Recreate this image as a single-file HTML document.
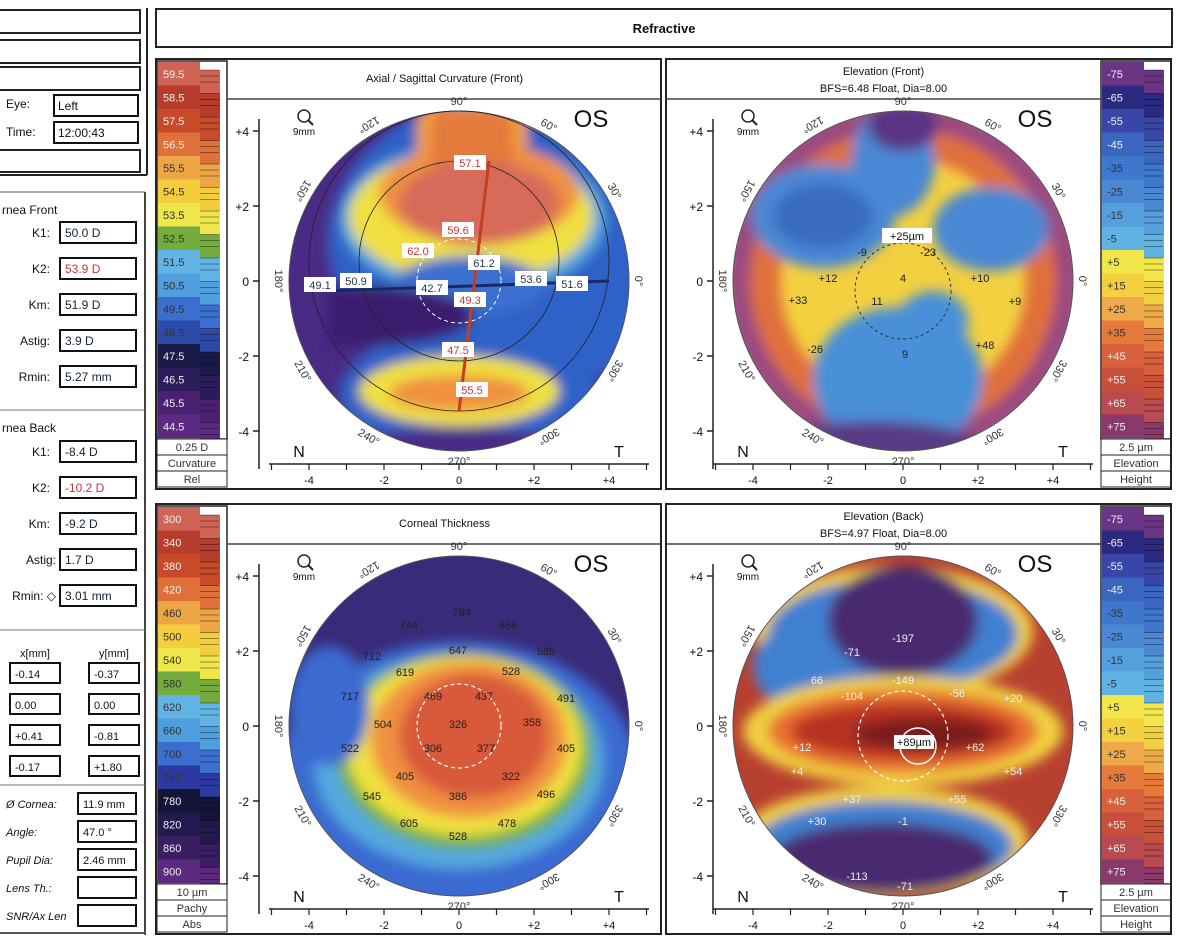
<!DOCTYPE html>
<html><head><meta charset="utf-8"><style>
html,body{margin:0;padding:0;background:#fff;}
svg{display:block;font-family:"Liberation Sans",sans-serif;}
</style></head><body>
<svg id="s" width="1178" height="944" viewBox="0 0 1178 944" xmlns="http://www.w3.org/2000/svg">
<defs>
<filter id="bl" x="-20%" y="-20%" width="140%" height="140%"><feGaussianBlur stdDeviation="6"/></filter>
<clipPath id="c170"><circle cx="0" cy="0" r="170"/></clipPath>
</defs>
</svg>
<script>
const S=document.getElementById('s');let h='';
function R(x,y,w,hh,f,st,sw){h+=`<rect x="${x}" y="${y}" width="${w}" height="${hh}" fill="${f||'none'}" stroke="${st||'none'}" stroke-width="${sw||1}"/>`;}
function T(x,y,t,sz,c,a,extra){h+=`<text x="${x}" y="${y}" font-size="${sz}" fill="${c||'#111'}" text-anchor="${a||'start'}" ${extra||''}>${t}</text>`;}
function L(x1,y1,x2,y2,c,w,d){h+=`<line x1="${x1}" y1="${y1}" x2="${x2}" y2="${y2}" stroke="${c||'#111'}" stroke-width="${w||1}" ${d?`stroke-dasharray="${d}"`:''}/>`;}
R(-2,10,142,23,'#fff','#222',2);R(-2,40,142,23,'#fff','#222',2);R(-2,67,142,23,'#fff','#222',2);
L(147,8,147,175,'#222',2);L(0,175,147,175,'#222',2);
T(6,108,'Eye:',12);R(54,95,84,21,'#fff','#111',2);T(58,110,'Left',12);
T(6,136,'Time:',12);R(54,122,84,21,'#fff','#111',2);T(58,137,'12:00:43',12);
R(-2,150,142,22,'#fff','#222',2);
L(0,192,145,192,'#555',1);L(145,192,145,935,'#444',2);
T(2,214,'rnea Front',12);
const kv=[['K1:',222,'50.0 D','#123'],['K2:',258,'53.9 D','#c33'],['Km:',294,'51.9 D','#123'],['Astig:',330,'3.9 D','#123'],['Rmin:',366,'5.27 mm','#123']];
kv.forEach(k=>{T(50,k[1]+15,k[0],12,'#111','end');R(60,k[1],76,21,'#fff','#111',2);T(65,k[1]+15,k[2],12,k[3]);});
L(0,410,145,410,'#777',1);
T(2,432,'rnea Back',12);
const kb=[['K1:',441,'-8.4 D','#123'],['K2:',477,'-10.2 D','#c33'],['Km:',513,'-9.2 D','#123'],['Astig:',549,'1.7 D','#123'],['Rmin: ◇',585,'3.01 mm','#123']];
kb.forEach(k=>{T(k[0].length>5?56:50,k[1]+15,k[0],12,'#111','end');R(60,k[1],76,21,'#fff','#111',2);T(65,k[1]+15,k[2],12,k[3]);});
L(0,630,145,630,'#777',1);
T(35,657,'x[mm]',11,'#111','middle');T(114,657,'y[mm]',11,'#111','middle');
[['-0.14','-0.37'],['0.00','0.00'],['+0.41','-0.81'],['-0.17','+1.80']].forEach((p,i)=>{const y=663+i*31;R(10,y,50,20,'#fff','#111',2);R(89,y,50,20,'#fff','#111',2);T(15,y+15,p[0],11);T(94,y+15,p[1],11);});
L(0,785,145,785,'#777',1);
[['Ø Cornea:','11.9 mm'],['Angle:','47.0 °'],['Pupil Dia:','2.46 mm'],['Lens Th.:',''],['SNR/Ax Len','']].forEach((p,i)=>{const y=793+i*28;T(6,y+15,p[0],11,'#111','start','font-style="italic"');R(78,y,58,21,'#fff','#111',2);T(83,y+15,p[1],11);});
L(0,933,145,933,'#555',2);
R(156,9,1016,38,'#fff','#222',2);T(664,33,'Refractive',13,'#111','middle','font-weight="bold"');
const curv=[['59.5','#cf6456'],['58.5','#b73c2c'],['57.5','#c84a28'],['56.5','#e0703a'],['55.5','#eda545'],['54.5','#f3cd3e'],['53.5','#eee64a'],['52.5','#74ad3e'],['51.5','#62b4e4'],['50.5','#4e9ee0'],['49.5','#3a6fd0'],['48.5','#2c4aa8'],['47.5','#1a1a48'],['46.5','#2c1c5a'],['45.5','#4a2070'],['44.5','#5c2a80']];
const pach=[['300','#cf6456'],['340','#b73c2c'],['380','#c84a28'],['420','#e0703a'],['460','#eda545'],['500','#f3cd3e'],['540','#eee64a'],['580','#74ad3e'],['620','#62b4e4'],['660','#4e9ee0'],['700','#3a6fd0'],['740','#2c3aa0'],['780','#141438'],['820','#241a50'],['860','#3a1e62'],['900','#5c2a80']];
const elev=[['-75','#6a3585'],['-65','#2c2a80'],['-55','#3846a8'],['-45','#3a66c0'],['-35','#3e78cc'],['-25','#4a88d4'],['-15','#55a0dc'],['-5','#5fb2e2'],['+5','#f2e64a'],['+15','#f2d040'],['+25','#eeaa48'],['+35','#e67a3a'],['+45','#d8603c'],['+55','#c8503a'],['+65','#b84a50'],['+75','#8a3a6a']];
function scale(x,y0,cells,labels,lw){const hc=23.5;R(x,y0,70,cells.length*hc+2,'#fff','#222',1.5);
cells.forEach((c,i)=>{const y=y0+1+i*hc;R(x+1,y,lw,hc,c[1]);R(x+1+lw,y+8,70-lw-8,hc,c[1]);T(x+6,y+16,c[0],11,i<12&&i>3?'#333':'#eee');for(let k=0;k<3;k++)L(x+lw+1,y+8+k*6,x+62,y+8+k*6,'rgba(0,0,0,.5)',.8);});
let yb=y0+cells.length*hc+2;labels.forEach((t,i)=>{R(x,yb+i*16,70,16,'#fff','#222',1);T(x+35,yb+i*16+12,t,11,'#333','middle');});}
scale(157,61,curv,['0.25 D','Curvature','Rel'],42);
scale(157,506,pach,['10 µm','Pachy','Abs'],42);
scale(1101,61,elev,['2.5 µm','Elevation','Height'],42);
scale(1101,506,elev,['2.5 µm','Elevation','Height'],42);
function panel(px,py,left,title,title2){
 R(px,py,505,430,'none','#222',2);
 const x0=left?px+72:px, x1=left?px+505:px+435;
 L(x0,py+40,x1,py+40,'#444',1.5);
 const tc=(x0+x1)/2;
 if(title2){T(tc,py+16,title,11,'#111','middle');T(tc,py+33,title2,11,'#111','middle');}else T(tc,py+23,title,11,'#111','middle');
 const cx=left?px+303:px+237, cy=py+222, ax=left?px+103:px+47;
 L(ax,py+60,ax,py+410,'#222',1.5);
 [4,2,0,-2,-4].forEach(v=>{const y=cy-v*37.5;L(ax-6,y,ax,y,'#222',1.5);T(ax-10,y+5,(v>0?'+':'')+v,12,'#111','end');});
 L(cx-190,py+405,cx+190,py+405,'#222',1.5);
 for(let v=-5;v<=5;v++){L(cx+v*37.5,py+405,cx+v*37.5,py+411,'#222',1.2);}
 [-4,-2,0,2,4].forEach(v=>T(cx+v*37.5,py+425,(v>0?'+':'')+v,11,'#111','middle'));
 T(cx+132,py+68,'OS',24,'#111','middle');
 T(cx-160,py+398,'N',16,'#111','middle');T(cx+160,py+398,'T',16,'#111','middle');
 h+=`<circle cx="${cx-155}" cy="${py+57}" r="6" fill="none" stroke="#222" stroke-width="1.5"/>`;L(cx-151,py+61,cx-146,py+66,'#222',2);
 T(cx-155,py+76,'9mm',10,'#111','middle');
 [[90,'90°'],[120,'120°'],[60,'60°'],[150,'150°'],[30,'30°'],[180,'180°'],[0,'0°'],[210,'210°'],[330,'330°'],[240,'240°'],[300,'300°'],[270,'270°']].forEach(d=>{const a=d[0]*Math.PI/180,r=180;const x=cx+r*Math.cos(a),y=cy-r*Math.sin(a);const rot=90-d[0];T(x,y+4,d[1],11,'#333','middle',`transform="rotate(${d[0]==270||d[0]==90?0:(d[0]>90&&d[0]<270?rot+180:rot)} ${x} ${y})"`);});
 return [cx,cy];
}
function map(c,base,shapes,extra){h+=`<g transform="translate(${c[0]},${c[1]})"><g clip-path="url(#c170)"><rect x="-180" y="-180" width="360" height="360" fill="${base}"/><g filter="url(#bl)">`;
 shapes.forEach(s=>{if(s[0]=='e')h+=`<ellipse cx="${s[1]}" cy="${s[2]}" rx="${s[3]}" ry="${s[4]}" fill="${s[5]}"/>`;else if(s[0]=='r')h+=`<rect x="${s[1]}" y="${s[2]}" width="${s[3]}" height="${s[4]}" fill="${s[5]}" rx="15"/>`;else if(s[0]=='ring')h+=`<circle r="${s[1]}" fill="none" stroke="${s[3]}" stroke-width="${s[2]}"/>`;});
 h+=`</g></g><circle r="170" fill="none" stroke="#555" stroke-width="1"/>${extra||''}</g>`;}
let c;
c=panel(156,59,true,'Axial / Sagittal Curvature (Front)');
map(c,'#4a2a85',[['e',60,-40,190,150,'#2f62c8'],['e',10,115,130,70,'#2f62c8'],['e',14,-62,132,76,'#55a8e0'],['e',12,-65,122,66,'#f0e040'],['r',-42,-175,110,100,'#f0a040'],['e',20,-88,100,50,'#f09040'],['r',-28,-170,82,90,'#e47a3a'],['e',20,-78,80,42,'#d86a5a'],['e',10,5,75,30,'#3a70d0'],['e',-95,35,110,30,'#3a1f6e'],['e',0,110,100,35,'#f0e040'],['e',0,112,70,18,'#f09040'],['e',0,172,120,25,'#4a2a85'],['e',-160,0,30,170,'#4a2a85']],
`<circle cx="0" cy="-20" r="150" fill="none" stroke="#222" stroke-width=".8"/><circle cx="0" cy="-20" r="100" fill="none" stroke="#222" stroke-width=".8"/><circle cx="0" cy="0" r="42" fill="none" stroke="#fff" stroke-width="1" stroke-dasharray="4 3"/>
<line x1="-130" y1="10" x2="150" y2="0" stroke="#1a2a60" stroke-width="3"/><line x1="30" y1="-120" x2="0" y2="130" stroke="#c04020" stroke-width="3"/>`);
[['57.1',470,165,1],['59.6',458,232,1],['62.0',418,253,1],['61.2',484,265,0],['50.9',356,283,0],['49.1',320,287,0],['42.7',432,290,0],['49.3',470,302,1],['53.6',531,281,0],['51.6',572,286,0],['47.5',458,352,1],['55.5',472,392,1]].forEach(l=>{R(l[1]-16,l[2]-10,32,15,'#fff');T(l[1],l[2]+2,l[0],11,l[3]?'#c33':'#235','middle');});
c=panel(666,59,false,'Elevation (Front)','BFS=6.48 Float, Dia=8.00');
map(c,'#f3d040',[['ring',162,34,'#9a4a80'],['ring',138,30,'#e0703a'],['e',-80,-65,72,52,'#4a88d4'],['e',-10,-120,42,55,'#4a88d4'],['e',0,-155,35,25,'#5a3585'],['e',88,-52,58,42,'#4a88d4'],['e',-5,98,85,72,'#4a90d8'],['e',30,40,35,30,'#4a90d8'],['e',-30,168,110,28,'#5a3a85'],['e',-80,-65,50,32,'#3a6cc0']],
`<circle cx="0" cy="10" r="48" fill="none" stroke="#333" stroke-width="1" stroke-dasharray="3 3"/>`);
R(882,228,50,15,'#fff');T(907,240,'+25µm',11,'#111','middle');
[['+12',828,282],['4',903,282],['+10',980,282],['+33',798,304],['11',877,305],['+9',1015,305],['-26',815,353],['9',905,358],['+48',985,349],['-9',862,256],['-23',928,256]].forEach(l=>T(l[1],l[2],l[0],11,'#222','middle'));
c=panel(156,504,true,'Corneal Thickness');
map(c,'#3a2a7a',[['e',0,50,180,135,'#3a6ad0'],['e',0,35,145,108,'#55a8e0'],['e',5,25,128,98,'#70b040'],['e',5,20,118,90,'#f0e040'],['e',10,14,98,78,'#f09040'],['e',15,10,75,62,'#d85a3a'],['e',-130,-20,40,60,'#3a6ad0']],
`<circle cx="0" cy="0" r="42" fill="none" stroke="#fff" stroke-width="1.2" stroke-dasharray="4 3"/>`);
[['784',462,616],['744',409,629],['666',508,629],['647',458,654],['619',405,676],['528',511,675],['585',546,655],['717',350,700],['469',433,700],['437',484,700],['491',566,702],['504',383,728],['326',458,728],['358',532,726],['522',350,752],['306',433,752],['377',486,752],['405',566,752],['405',405,780],['322',511,780],['386',458,800],['545',372,800],['496',546,798],['605',409,827],['528',458,840],['478',507,827],['712',372,660]].forEach(l=>T(l[1],l[2],l[0],11,'#222','middle'));
c=panel(666,504,false,'Elevation (Back)','BFS=4.97 Float, Dia=8.00');
map(c,'#b84030',[['e',-10,-95,140,65,'#f0d040'],['e',-10,-92,125,55,'#4080d0'],['e',-110,-60,40,40,'#4080d0'],['e',0,-105,75,55,'#4a2a70'],['e',0,5,160,55,'#f0d040'],['e',0,5,135,42,'#e87030'],['e',0,5,112,28,'#b83020'],['e',20,8,70,16,'#7a1e1e'],['e',-20,115,145,55,'#f0d040'],['e',-20,120,130,45,'#4080d0'],['e',-20,132,110,35,'#4a2a70']],
`<circle cx="0" cy="10" r="45" fill="none" stroke="#fff" stroke-width="1.2" stroke-dasharray="4 3"/><circle cx="15" cy="20" r="18" fill="none" stroke="#fff" stroke-width="1.5"/>`);
R(894,735,40,14,'#fff');T(914,746,'+89µm',11,'#111','middle');
[['-197',903,642],['-71',852,656],['-149',903,684],['66',817,684],['-104',852,700],['-56',957,697],['+20',1013,702],['+12',802,751],['+62',975,751],['+54',1013,775],['+4',797,775],['+37',852,803],['+55',957,803],['+30',817,825],['-1',903,825],['-113',857,880],['-71',905,890]].forEach(l=>T(l[1],l[2],l[0],11,'#eee','middle'));
S.innerHTML+=h;
</script>
</body></html>
